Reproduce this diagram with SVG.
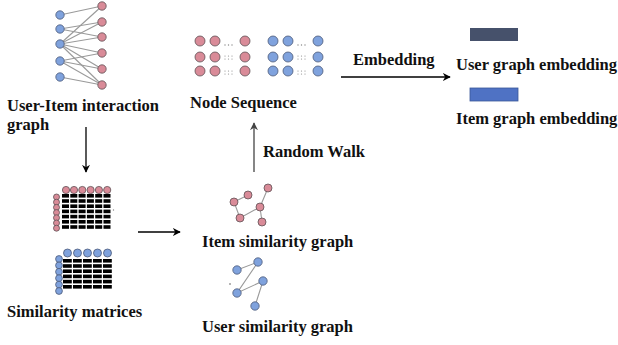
<svg xmlns="http://www.w3.org/2000/svg" width="618" height="345" viewBox="0 0 618 345">
<style>
text{font-family:"Liberation Serif","Times New Roman",serif;font-weight:bold;font-size:16.5px;fill:#111}
.r{fill:#d98b98;stroke:#5e5054;stroke-width:0.8}
.b{fill:#7fa2dd;stroke:#4d5a78;stroke-width:0.8}
.e{stroke:#9a9a9a;stroke-width:1.1;fill:none}
.m{fill:#000}
.d{fill:#888}
.ar{stroke:#000;stroke-width:1.3;fill:none}
</style>
<defs>
<marker id="ah" viewBox="0 0 10 10" refX="9" refY="5" markerWidth="8" markerHeight="8" markerUnits="userSpaceOnUse" orient="auto">
<path d="M0,0 L10,5 L0,10 L3,5 Z" fill="#000"/>
</marker>
<marker id="ahg" viewBox="0 0 10 10" refX="9" refY="5" markerWidth="8" markerHeight="8" markerUnits="userSpaceOnUse" orient="auto">
<path d="M0,0 L10,5 L0,10 L3,5 Z" fill="#444"/>
</marker>
</defs>
<rect width="618" height="345" fill="#fff"/>

<g id="connectors">
<line class="ar" x1="86" y1="127" x2="86" y2="172" marker-end="url(#ah)"/>
<line class="ar" x1="138" y1="232" x2="180" y2="232" marker-end="url(#ah)"/>
<line class="ar" x1="254" y1="172" x2="254" y2="123" marker-end="url(#ahg)" style="stroke:#444"/>
<line class="ar" x1="341" y1="77" x2="450" y2="77" marker-end="url(#ah)"/>
<text x="353" y="65">Embedding</text>
<text x="263" y="157">Random Walk</text>
</g>

<g id="interaction-graph">
<g class="e">
<line x1="60" y1="15" x2="102" y2="6"/>
<line x1="60" y1="29" x2="102" y2="22"/>
<line x1="60" y1="29" x2="102" y2="37"/>
<line x1="60" y1="44" x2="102" y2="6"/>
<line x1="60" y1="44" x2="102" y2="22"/>
<line x1="60" y1="44" x2="102" y2="37"/>
<line x1="60" y1="44" x2="102" y2="53"/>
<line x1="60" y1="44" x2="102" y2="69"/>
<line x1="60" y1="44" x2="102" y2="85"/>
<line x1="60" y1="61" x2="102" y2="53"/>
<line x1="60" y1="61" x2="102" y2="69"/>
<line x1="60" y1="61" x2="102" y2="85"/>
<line x1="60" y1="77" x2="102" y2="85"/>
</g>
<circle class="b" cx="60" cy="15" r="4.2"/>
<circle class="b" cx="60" cy="29" r="4.2"/>
<circle class="b" cx="60" cy="44" r="4.2"/>
<circle class="b" cx="60" cy="61" r="4.2"/>
<circle class="b" cx="60" cy="77" r="4.2"/>
<circle class="r" cx="102" cy="6" r="4.2"/>
<circle class="r" cx="102" cy="22" r="4.2"/>
<circle class="r" cx="102" cy="37" r="4.2"/>
<circle class="r" cx="102" cy="53" r="4.2"/>
<circle class="r" cx="102" cy="69" r="4.2"/>
<circle class="r" cx="102" cy="85" r="4.2"/>
<text x="7" y="111">User-Item interaction</text>
<text x="7" y="130">graph</text>
</g>

<g id="node-sequence">
<circle class="r" cx="200" cy="41" r="5"/>
<circle class="r" cx="215" cy="41" r="5"/>
<circle class="r" cx="245" cy="41" r="5"/>
<circle class="r" cx="200" cy="57" r="5"/>
<circle class="r" cx="215" cy="57" r="5"/>
<circle class="r" cx="245" cy="57" r="5"/>
<circle class="r" cx="200" cy="71" r="5"/>
<circle class="r" cx="215" cy="71" r="5"/>
<circle class="r" cx="245" cy="71" r="5"/>
<circle class="b" cx="273" cy="41" r="5"/>
<circle class="b" cx="288" cy="41" r="5"/>
<circle class="b" cx="318" cy="41" r="5"/>
<circle class="b" cx="273" cy="57" r="5"/>
<circle class="b" cx="288" cy="57" r="5"/>
<circle class="b" cx="318" cy="57" r="5"/>
<circle class="b" cx="273" cy="71" r="5"/>
<circle class="b" cx="288" cy="71" r="5"/>
<circle class="b" cx="318" cy="71" r="5"/>
<g class="d">
<circle cx="225" cy="45" r="0.7"/><circle cx="228.5" cy="45" r="0.7"/><circle cx="232" cy="45" r="0.7"/>
<circle cx="225" cy="56" r="0.6"/><circle cx="228.5" cy="56" r="0.6"/><circle cx="232" cy="56" r="0.6"/>
<circle cx="225" cy="59" r="0.6"/><circle cx="228.5" cy="59" r="0.6"/><circle cx="232" cy="59" r="0.6"/>
<circle cx="225" cy="71" r="0.6"/><circle cx="228.5" cy="71" r="0.6"/><circle cx="232" cy="71" r="0.6"/>
<circle cx="225" cy="74" r="0.6"/><circle cx="228.5" cy="74" r="0.6"/><circle cx="232" cy="74" r="0.6"/>
<circle cx="298" cy="45" r="0.7"/><circle cx="301.5" cy="45" r="0.7"/><circle cx="305" cy="45" r="0.7"/>
<circle cx="298" cy="56" r="0.6"/><circle cx="301.5" cy="56" r="0.6"/><circle cx="305" cy="56" r="0.6"/>
<circle cx="298" cy="59" r="0.6"/><circle cx="301.5" cy="59" r="0.6"/><circle cx="305" cy="59" r="0.6"/>
<circle cx="298" cy="71" r="0.6"/><circle cx="301.5" cy="71" r="0.6"/><circle cx="305" cy="71" r="0.6"/>
<circle cx="298" cy="74" r="0.6"/><circle cx="301.5" cy="74" r="0.6"/><circle cx="305" cy="74" r="0.6"/>
</g>
<text x="190" y="108">Node Sequence</text>
</g>

<g id="embeddings">
<rect x="470" y="28" width="48" height="13" fill="#46516b"/>
<text x="456" y="70">User graph embedding</text>
<rect x="470" y="88" width="48" height="13" fill="#4f72c4" stroke="#3b5799" stroke-width="0.8"/>
<text x="456" y="124">Item graph embedding</text>
</g>

<g id="similarity-matrices">
<g class="m">
<rect x="62" y="194" width="7" height="3.6"/><rect x="70.3" y="194" width="7" height="3.6"/><rect x="78.6" y="194" width="7" height="3.6"/><rect x="86.9" y="194" width="7" height="3.6"/><rect x="95.2" y="194" width="7" height="3.6"/><rect x="103.5" y="194" width="7" height="3.6"/>
<rect x="62" y="199.2" width="7" height="3.6"/><rect x="70.3" y="199.2" width="7" height="3.6"/><rect x="78.6" y="199.2" width="7" height="3.6"/><rect x="86.9" y="199.2" width="7" height="3.6"/><rect x="95.2" y="199.2" width="7" height="3.6"/><rect x="103.5" y="199.2" width="7" height="3.6"/>
<rect x="62" y="204.4" width="7" height="3.6"/><rect x="70.3" y="204.4" width="7" height="3.6"/><rect x="78.6" y="204.4" width="7" height="3.6"/><rect x="86.9" y="204.4" width="7" height="3.6"/><rect x="95.2" y="204.4" width="7" height="3.6"/><rect x="103.5" y="204.4" width="7" height="3.6"/>
<rect x="62" y="209.6" width="7" height="3.6"/><rect x="70.3" y="209.6" width="7" height="3.6"/><rect x="78.6" y="209.6" width="7" height="3.6"/><rect x="86.9" y="209.6" width="7" height="3.6"/><rect x="95.2" y="209.6" width="7" height="3.6"/><rect x="103.5" y="209.6" width="7" height="3.6"/>
<rect x="62" y="214.8" width="7" height="3.6"/><rect x="70.3" y="214.8" width="7" height="3.6"/><rect x="78.6" y="214.8" width="7" height="3.6"/><rect x="86.9" y="214.8" width="7" height="3.6"/><rect x="95.2" y="214.8" width="7" height="3.6"/><rect x="103.5" y="214.8" width="7" height="3.6"/>
<rect x="62" y="220" width="7" height="3.6"/><rect x="70.3" y="220" width="7" height="3.6"/><rect x="78.6" y="220" width="7" height="3.6"/><rect x="86.9" y="220" width="7" height="3.6"/><rect x="95.2" y="220" width="7" height="3.6"/><rect x="103.5" y="220" width="7" height="3.6"/>
<rect x="62" y="225.2" width="7" height="3.6"/><rect x="70.3" y="225.2" width="7" height="3.6"/><rect x="78.6" y="225.2" width="7" height="3.6"/><rect x="86.9" y="225.2" width="7" height="3.6"/><rect x="95.2" y="225.2" width="7" height="3.6"/><rect x="103.5" y="225.2" width="7" height="3.6"/>
</g>
<circle cx="113.5" cy="210" r="0.7" fill="#888"/>
<circle class="r" cx="66" cy="190" r="3.6"/><circle class="r" cx="74" cy="190" r="3.6"/><circle class="r" cx="82.3" cy="190" r="3.6"/><circle class="r" cx="90.6" cy="190" r="3.6"/><circle class="r" cx="98.9" cy="190" r="3.6"/><circle class="r" cx="107.2" cy="190" r="3.6"/>
<circle class="r" cx="56.5" cy="197" r="3"/><circle class="r" cx="56.5" cy="202.2" r="3"/><circle class="r" cx="56.5" cy="207.4" r="3"/><circle class="r" cx="56.5" cy="212.6" r="3"/><circle class="r" cx="56.5" cy="217.8" r="3"/><circle class="r" cx="56.5" cy="223" r="3"/><circle class="r" cx="56.5" cy="228.2" r="3"/>

<g class="m">
<rect x="63" y="259" width="8.8" height="3.6"/><rect x="73" y="259" width="8.8" height="3.6"/><rect x="83" y="259" width="8.8" height="3.6"/><rect x="93" y="259" width="8.8" height="3.6"/><rect x="103" y="259" width="8.8" height="3.6"/>
<rect x="63" y="264.2" width="8.8" height="3.6"/><rect x="73" y="264.2" width="8.8" height="3.6"/><rect x="83" y="264.2" width="8.8" height="3.6"/><rect x="93" y="264.2" width="8.8" height="3.6"/><rect x="103" y="264.2" width="8.8" height="3.6"/>
<rect x="63" y="269.4" width="8.8" height="3.6"/><rect x="73" y="269.4" width="8.8" height="3.6"/><rect x="83" y="269.4" width="8.8" height="3.6"/><rect x="93" y="269.4" width="8.8" height="3.6"/><rect x="103" y="269.4" width="8.8" height="3.6"/>
<rect x="63" y="274.6" width="8.8" height="3.6"/><rect x="73" y="274.6" width="8.8" height="3.6"/><rect x="83" y="274.6" width="8.8" height="3.6"/><rect x="93" y="274.6" width="8.8" height="3.6"/><rect x="103" y="274.6" width="8.8" height="3.6"/>
<rect x="63" y="279.8" width="8.8" height="3.6"/><rect x="73" y="279.8" width="8.8" height="3.6"/><rect x="83" y="279.8" width="8.8" height="3.6"/><rect x="93" y="279.8" width="8.8" height="3.6"/><rect x="103" y="279.8" width="8.8" height="3.6"/>
<rect x="63" y="285" width="8.8" height="3.6"/><rect x="73" y="285" width="8.8" height="3.6"/><rect x="83" y="285" width="8.8" height="3.6"/><rect x="93" y="285" width="8.8" height="3.6"/><rect x="103" y="285" width="8.8" height="3.6"/>
</g>
<circle class="b" cx="67.5" cy="253" r="4"/><circle class="b" cx="77.5" cy="253" r="4"/><circle class="b" cx="87.5" cy="253" r="4"/><circle class="b" cx="97.5" cy="253" r="4"/><circle class="b" cx="107.5" cy="253" r="4"/>
<circle class="b" cx="59" cy="259" r="3.4"/><circle class="b" cx="59" cy="265.4" r="3.4"/><circle class="b" cx="59" cy="271.8" r="3.4"/><circle class="b" cx="59" cy="278.2" r="3.4"/><circle class="b" cx="59" cy="284.6" r="3.4"/><circle class="b" cx="59" cy="291" r="3.4"/>
<text x="7" y="317">Similarity matrices</text>
</g>

<g id="item-similarity-graph">
<g class="e">
<polyline points="248,195 234,202 240,218 260,207 268,188"/>
<line x1="260" y1="207" x2="262" y2="222"/>
</g>
<circle class="r" cx="268" cy="188" r="4"/>
<circle class="r" cx="248" cy="195" r="4"/>
<circle class="r" cx="234" cy="202" r="4"/>
<circle class="r" cx="260" cy="207" r="4"/>
<circle class="r" cx="240" cy="218" r="4"/>
<circle class="r" cx="262" cy="222" r="4"/>
<text x="202" y="247">Item similarity graph</text>
</g>

<g id="user-similarity-graph">
<g class="e">
<polyline points="237,270 258,262 237,293 263,281 255,306"/>
</g>
<circle class="b" cx="258" cy="262" r="4.2"/>
<circle class="b" cx="237" cy="270" r="4.2"/>
<circle class="b" cx="263" cy="281" r="4.2"/>
<circle class="b" cx="237" cy="293" r="4.2"/>
<circle class="b" cx="255" cy="306" r="4.2"/>
<circle cx="230" cy="284" r="0.7" fill="#333"/>
<text x="202" y="332">User similarity graph</text>
</g>
</svg>
